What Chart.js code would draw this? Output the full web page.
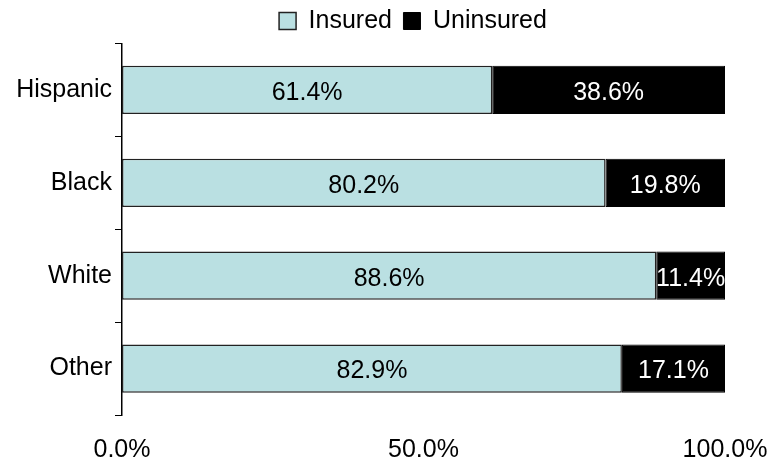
<!DOCTYPE html>
<html>
<head>
<meta charset="utf-8">
<script src="https://cdn.jsdelivr.net/npm/chart.js@4"></script>
<style>
  html, body { margin: 0; padding: 0; background: #fff; }
  #wrap { width: 783px; height: 465px; }
</style>
</head>
<body>
<div id="wrap"><canvas id="insurance-chart"></canvas></div>
<script>
// Data
const groups = ['Hispanic', 'Black', 'White', 'Other'];
const insured = [61.4, 80.2, 88.6, 82.9];
const uninsured = [38.6, 19.8, 11.4, 17.1];
const xTicks = [0, 50, 100];

const FONT = "'Liberation Sans', Arial, sans-serif";

// Plugin: percentage text inside each segment
const segmentLabels = {
    id: 'segmentLabels',
    afterDatasetsDraw(chart) {
        const ctx = chart.ctx;
        ctx.save();
        ctx.font = '25px ' + FONT;
        ctx.textAlign = 'center';
        ctx.textBaseline = 'middle';
        chart.data.datasets.forEach((ds, i) => {
            const meta = chart.getDatasetMeta(i);
            meta.data.forEach((bar, j) => {
                const cx = (bar.x + bar.base) / 2;
                ctx.fillStyle = i === 0 ? '#000' : '#fff';
                ctx.fillText(ds.data[j].toFixed(1) + '%', cx, bar.y + 3);
            });
        });
        ctx.restore();
    }
};

// Plugin: legend sits a little right of the canvas centre in the original
const legendShift = {
    id: 'legendShift',
    afterLayout(chart) {
        if (chart.legend) {
            chart.legend.left = 43;
            chart.legend.right = 783;
        }
    }
};

new Chart(document.getElementById('insurance-chart'), {
    type: 'bar',
    data: {
        labels: groups,
        datasets: [{
            label: 'Insured',
            data: insured,
            backgroundColor: '#BAE0E2',
            borderColor: '#222',
            borderWidth: 1.5,
            borderSkipped: false,
            categoryPercentage: 1,
            barPercentage: 0.52
        }, {
            label: 'Uninsured',
            data: uninsured,
            backgroundColor: '#000',
            borderColor: '#000',
            borderWidth: 1,
            borderSkipped: false,
            categoryPercentage: 1,
            barPercentage: 0.52
        }]
    },
    options: {
        indexAxis: 'y',
        responsive: true,
        maintainAspectRatio: false,
        animation: false,
        layout: { padding: { left: 0, right: 58, top: -3, bottom: 0 } },
        plugins: {
            legend: {
                display: true,
                position: 'top',
                labels: {
                    color: '#000',
                    font: { family: FONT, size: 25 },
                    boxWidth: 17,
                    boxHeight: 17,
                    padding: 11.5
                }
            },
            tooltip: { enabled: false }
        },
        scales: {
            x: {
                stacked: true,
                min: 0,
                max: 100,
                afterBuildTicks: (scale) => { scale.ticks = xTicks.map(v => ({ value: v })); },
                ticks: {
                    color: '#000',
                    font: { family: FONT, size: 25 },
                    padding: 20,
                    maxRotation: 0,
                    callback: (v) => v.toFixed(1) + '%'
                },
                grid: { display: false, drawTicks: false },
                border: { display: false },
                afterFit: (scale) => {
                    scale.height = 50;
                    scale.paddingLeft = 0;
                    scale.paddingRight = 0;
                }
            },
            y: {
                stacked: true,
                ticks: {
                    color: '#000',
                    font: { family: FONT, size: 25 },
                    padding: 3
                },
                grid: {
                    offset: true,
                    drawOnChartArea: false,
                    drawTicks: true,
                    tickLength: 7,
                    color: '#000',
                    lineWidth: 1
                },
                border: { display: true, color: '#000', width: 1.5 },
                afterFit: (scale) => { scale.width = 122; }
            }
        }
    },
    plugins: [segmentLabels, legendShift]
});
</script>
</body>
</html>
